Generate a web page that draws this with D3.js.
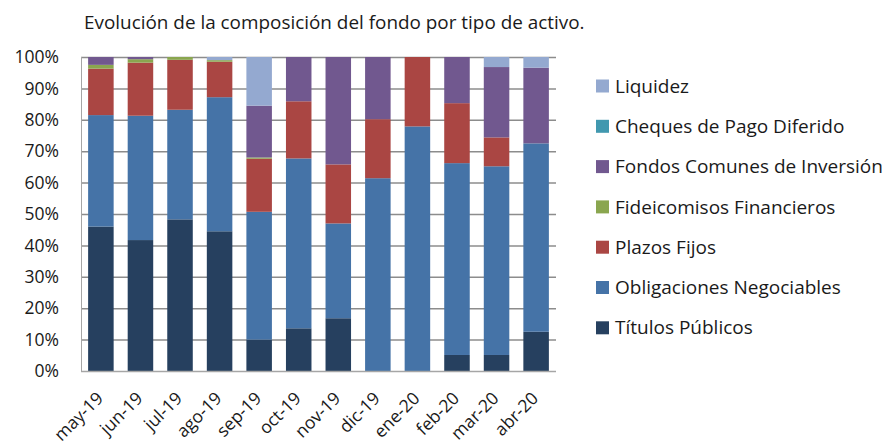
<!DOCTYPE html>
<html>
<head>
<meta charset="utf-8">
<script src="https://cdn.jsdelivr.net/npm/d3@7"></script>
<style>
  body { margin: 0; background: #fff; }
  text { font-family: "Open Sans", "Noto Sans", sans-serif; fill: #1a1a1a; }
</style>
</head>
<body>
<svg id="chart" width="887" height="445"></svg>
<script>
var months = ['may-19', 'jun-19', 'jul-19', 'ago-19', 'sep-19', 'oct-19',
  'nov-19', 'dic-19', 'ene-20', 'feb-20', 'mar-20', 'abr-20'];

// series, bottom to top
var seriesNames = ['Títulos Públicos', 'Obligaciones Negociables', 'Plazos Fijos',
  'Fideicomisos Financieros', 'Fondos Comunes de Inversión',
  'Cheques de Pago Diferido', 'Liquidez'];
var seriesColors = ['#26405f', '#4573a7', '#aa4643', '#8aa64f', '#71588f',
  '#4198af', '#94a9d0'];

// percent of fund per month
var titulosPublicos = [46.0, 41.7, 48.3, 44.5, 10.0, 13.6, 16.8, 0, 0, 5.1, 5.1, 12.5];
var obligaciones = [35.5, 39.6, 34.9, 42.7, 40.7, 54.1, 30.2, 61.4, 77.9, 61.1, 60.1, 60.0];
var plazosFijos = [14.8, 16.9, 15.9, 11.3, 16.9, 18.2, 18.8, 18.8, 22.1, 19.1, 9.2, 0];
var fideicomisos = [1.2, 1.1, 0.9, 0.5, 0.4, 0, 0, 0, 0, 0, 0, 0];
var fondosComunes = [2.5, 0.7, 0, 0, 16.5, 14.1, 34.2, 19.8, 0, 14.7, 22.4, 24.1];
var cheques = [0, 0, 0, 0, 0, 0, 0, 0, 0, 0, 0, 0];
var liquidez = [0, 0, 0, 1.0, 15.5, 0, 0, 0, 0, 0, 3.2, 3.4];

var yTicks = [0, 10, 20, 30, 40, 50, 60, 70, 80, 90, 100];

var seriesValues = [titulosPublicos, obligaciones, plazosFijos, fideicomisos,
  fondosComunes, cheques, liquidez];

var rows = months.map(function(m, i) {
  var r = {month: m};
  seriesNames.forEach(function(s, k) { r[s] = seriesValues[k][i]; });
  return r;
});

var svg = d3.select('#chart');
var plotLeft = 81, plotRight = 556, plotTop = 57, plotBottom = 371;

var x = d3.scaleBand().domain(months).range([plotLeft, plotRight]).paddingInner(0.355).paddingOuter(0.18);
var y = d3.scaleLinear().domain([0, 100]).range([plotBottom, plotTop]);

// title
svg.append('text')
  .attr('x', 84)
  .attr('y', 29)
  .attr('font-size', 18.9)
  .text('Evolución de la composición del fondo por tipo de activo.');

// gridlines
svg.append('g').selectAll('line')
  .data(yTicks.slice(1))
  .enter().append('line')
  .attr('x1', plotLeft).attr('x2', plotRight)
  .attr('y1', function(d) { return y(d) + 0.5; })
  .attr('y2', function(d) { return y(d) + 0.5; })
  .attr('stroke', '#8c8c8c')
  .attr('stroke-width', 1.5);

// stacked bars
var stack = d3.stack().keys(seriesNames);
var layers = stack(rows);
svg.append('g').selectAll('g')
  .data(layers)
  .enter().append('g')
  .attr('fill', function(d, i) { return seriesColors[i]; })
  .selectAll('rect')
  .data(function(d) { return d; })
  .enter().append('rect')
  .attr('x', function(d) { return x(d.data.month); })
  .attr('width', x.bandwidth())
  .attr('y', function(d) { return y(d[1]); })
  .attr('height', function(d) { return Math.max(0, y(d[0]) - y(d[1])); });

// axes lines
svg.append('line')
  .attr('x1', plotLeft + 0.5).attr('x2', plotLeft + 0.5)
  .attr('y1', plotTop).attr('y2', plotBottom)
  .attr('stroke', '#a6a6a6');
svg.append('line')
  .attr('x1', plotLeft).attr('x2', plotRight)
  .attr('y1', plotBottom + 0.5).attr('y2', plotBottom + 0.5)
  .attr('stroke', '#a6a6a6')
  .attr('stroke-width', 1.5);

// y tick labels
svg.append('g').selectAll('text')
  .data(yTicks)
  .enter().append('text')
  .attr('x', 59)
  .attr('y', function(d) { return y(d); })
  .attr('dy', '.35em')
  .attr('text-anchor', 'end')
  .attr('font-size', 17.5)
  .text(function(d) { return d + '%'; });

// x tick labels
svg.append('g').selectAll('text')
  .data(months)
  .enter().append('text')
  .attr('transform', function(d) {
    return 'translate(' + (x(d) + x.bandwidth() / 2 - 1) + ',' + (plotBottom + 24) + ') rotate(-45)';
  })
  .attr('text-anchor', 'end')
  .attr('dy', '.35em')
  .attr('font-size', 17.5)
  .text(function(d) { return d; });

// legend, top to bottom
var legendItems = seriesNames.map(function(s, i) { return {name: s, color: seriesColors[i]}; }).reverse();
var legend = svg.append('g').selectAll('g')
  .data(legendItems)
  .enter().append('g')
  .attr('transform', function(d, i) { return 'translate(596,' + (86 + i * 40.3) + ')'; });
legend.append('rect')
  .attr('x', 0).attr('y', -6.5)
  .attr('width', 13).attr('height', 13)
  .attr('fill', function(d) { return d.color; });
legend.append('text')
  .attr('x', 19)
  .attr('dy', '.35em')
  .attr('font-size', 19)
  .text(function(d) { return d.name; });
</script>
</body>
</html>
